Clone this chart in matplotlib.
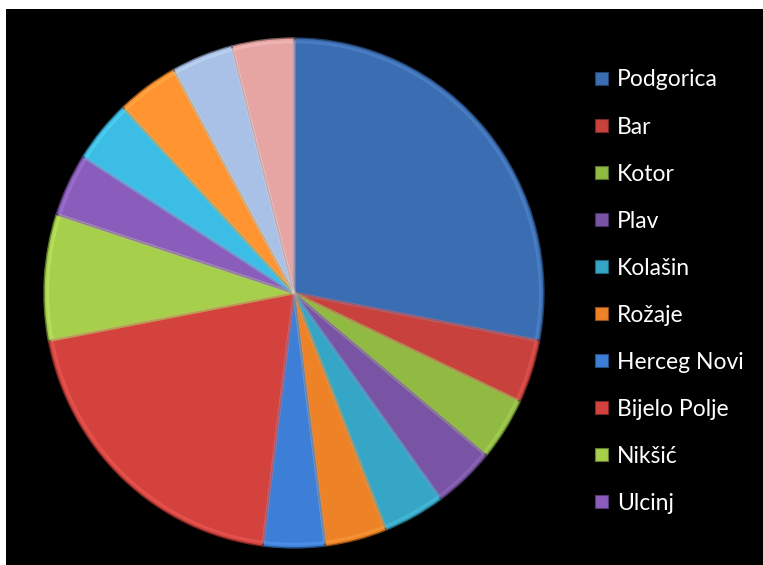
import matplotlib
matplotlib.use("Agg")
import matplotlib.pyplot as plt
from matplotlib.patches import Rectangle
import matplotlib.colors as mcolors

# Data
labels = ["Podgorica", "Bar", "Kotor", "Plav", "Kolašin", "Rožaje",
          "Herceg Novi", "Bijelo Polje", "Nikšić", "Ulcinj",
          "Berane", "Budva", "Cetinje", "Tivat"]
values = [28, 4, 4, 4, 4, 4, 4, 20, 8, 4, 4, 4, 4, 4]
colors = ["#3b6db2", "#c9413c", "#90ba42", "#7a54a4", "#35a6c6", "#ee8226",
          "#3d7fd6", "#d4423e", "#a6cf4c", "#8a5cbc", "#3bbde6", "#ff9430",
          "#a9c1e6", "#e6a5a3"]
legend_count = 10

W, H, DPI = 763, 565, 100
fig = plt.figure(figsize=(W / DPI, H / DPI), dpi=DPI, facecolor="white")

# black background panel
fig.add_artist(Rectangle((6 / W, 0), 1 - 6 / W, 1 - 9 / H,
                         transform=fig.transFigure, facecolor="black",
                         edgecolor="none", zorder=0))

cx, cy, rx, ry = 294, 293, 250, 255
ax = fig.add_axes([(cx - rx) / W, (H - cy - ry) / H, 2 * rx / W, 2 * ry / H])
ax.set_facecolor("none")

def darker(c, f=0.6):
    r, g, b = mcolors.to_rgb(c)
    return (r * f, g * f, b * f)

wedges, _ = ax.pie(values, colors=colors, startangle=90, counterclock=False,
                   wedgeprops=dict(linewidth=1.0))
for w, c in zip(wedges, colors):
    w.set_edgecolor(darker(c, 0.55))
    w.set_zorder(2)

# glossy rim highlight
hl, _ = ax.pie(values, colors=["none"] * len(values), startangle=90,
               counterclock=False, radius=0.985,
               wedgeprops=dict(linewidth=2.0, fill=False))
for w, c in zip(hl, colors):
    r, g, b = mcolors.to_rgb(c)
    w.set_edgecolor((min(1, r + 0.15), min(1, g + 0.15), min(1, b + 0.15), 0.4))
    w.set_zorder(3)

ax.set_aspect("auto")
ax.set_xlim(-1, 1)
ax.set_ylim(-1, 1)
ax.axis("off")

# legend (first entries only, as in the original)
y0, dy = 78, 47.1
for i in range(legend_count):
    y = y0 + i * dy
    c = colors[i]
    fig.add_artist(Rectangle((595 / W, (H - y - 6.5) / H), 13 / W, 13 / H,
                             transform=fig.transFigure, facecolor=c,
                             edgecolor=darker(c, 0.6), linewidth=0.8, zorder=4))
    fig.text(617 / W, (H - y) / H, labels[i], color="white", fontsize=16.5,
             family="Lato", va="center_baseline", ha="left", zorder=5)

fig.savefig("out.png", dpi=DPI, facecolor="white")
